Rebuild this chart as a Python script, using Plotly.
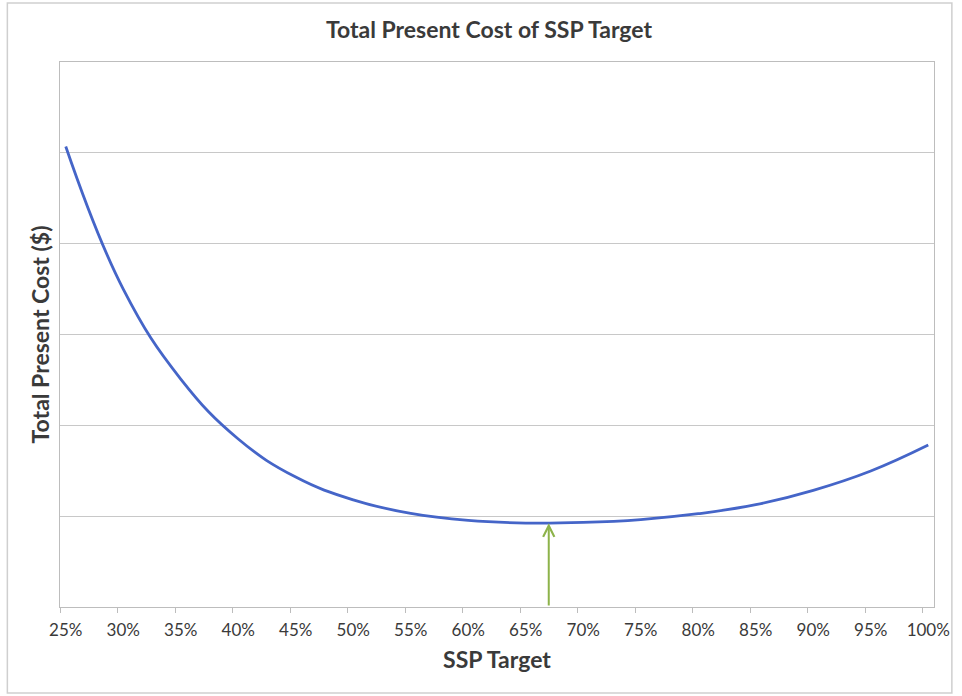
import plotly.graph_objects as go

# SSP target levels (%) and relative total present cost (no units shown on the axis)
ssp_target = [25, 30, 35, 40, 45, 50, 55, 60, 65, 70, 75, 80, 85, 90, 95, 100]
total_cost = [5.07, 3.50, 2.51, 1.85, 1.43, 1.18, 1.03, 0.953, 0.924, 0.931,
              0.963, 1.027, 1.126, 1.284, 1.497, 1.783]

# optimum marked by the arrow
optimum_x = 67
optimum_y = 0.922

tick_labels = [f"{v}%" for v in ssp_target]
boundaries = [v - 0.5 for v in range(25, 101)] + [100.5]
boundary_ticks = [b for b in boundaries if (b - 24.5) % 5 == 0]

FONT = "Lato"
TEXT = "#3a3a3a"

fig = go.Figure()
fig.add_trace(go.Scatter(
    x=ssp_target, y=total_cost, mode="lines",
    line=dict(color="#4565c8", width=2.8, shape="spline", smoothing=1.2),
    hoverinfo="skip", showlegend=False,
))

fig.add_annotation(
    x=optimum_x, y=optimum_y, ax=optimum_x, ay=0,
    xref="x", yref="y", axref="x", ayref="y",
    showarrow=True, arrowhead=5, arrowsize=1.1, arrowwidth=2,
    arrowcolor="#8db34a", text="",
)

# outer chart frame
W, H = 962, 696
L, R, T, B = 60, 940, 62, 607
def px_x(p):
    return (p - L) / (R - L)
def px_y(p):
    return (B - p) / (B - T)

fig.add_shape(type="rect", xref="paper", yref="paper",
              x0=px_x(7), x1=px_x(958), y0=px_y(693), y1=px_y(3),
              line=dict(color="#cfcfcf", width=1.5), layer="below")

fig.update_layout(
    width=W, height=H,
    margin=dict(l=L, r=W - R, t=T, b=H - B),
    paper_bgcolor="white", plot_bgcolor="white",
    title=dict(text="<b>Total Present Cost of SSP Target</b>",
               x=489 / W, xref="container", xanchor="center",
               y=1 - 30 / H, yref="container", yanchor="middle",
               font=dict(family=FONT, size=23, color=TEXT)),
    xaxis=dict(
        range=[24.5, 100.5], tickmode="array", tickvals=ssp_target, ticktext=tick_labels,
        ticks="", showgrid=False, zeroline=False,
        showline=True, linecolor="#bdbdbd", linewidth=1, mirror=True,
        tickfont=dict(family=FONT, size=17, color=TEXT),
        ticklabelstandoff=8,
        minor=dict(tickmode="array", tickvals=boundary_ticks, ticks="outside",
                   ticklen=5, tickcolor="#bdbdbd", tickwidth=1, showgrid=False),
        title=dict(text="<b>SSP Target</b>", font=dict(family=FONT, size=23, color=TEXT),
                   standoff=12),
    ),
    yaxis=dict(
        range=[0, 6], dtick=1, tick0=0, showticklabels=False, ticks="",
        showgrid=True, gridcolor="#c8c8c8", gridwidth=1, zeroline=False,
        showline=True, linecolor="#bdbdbd", linewidth=1, mirror=True,
        title=dict(text="<b>Total Present Cost ($)</b>",
                   font=dict(family=FONT, size=23, color=TEXT), standoff=2),
    ),
)

fig.write_html("out.html")
